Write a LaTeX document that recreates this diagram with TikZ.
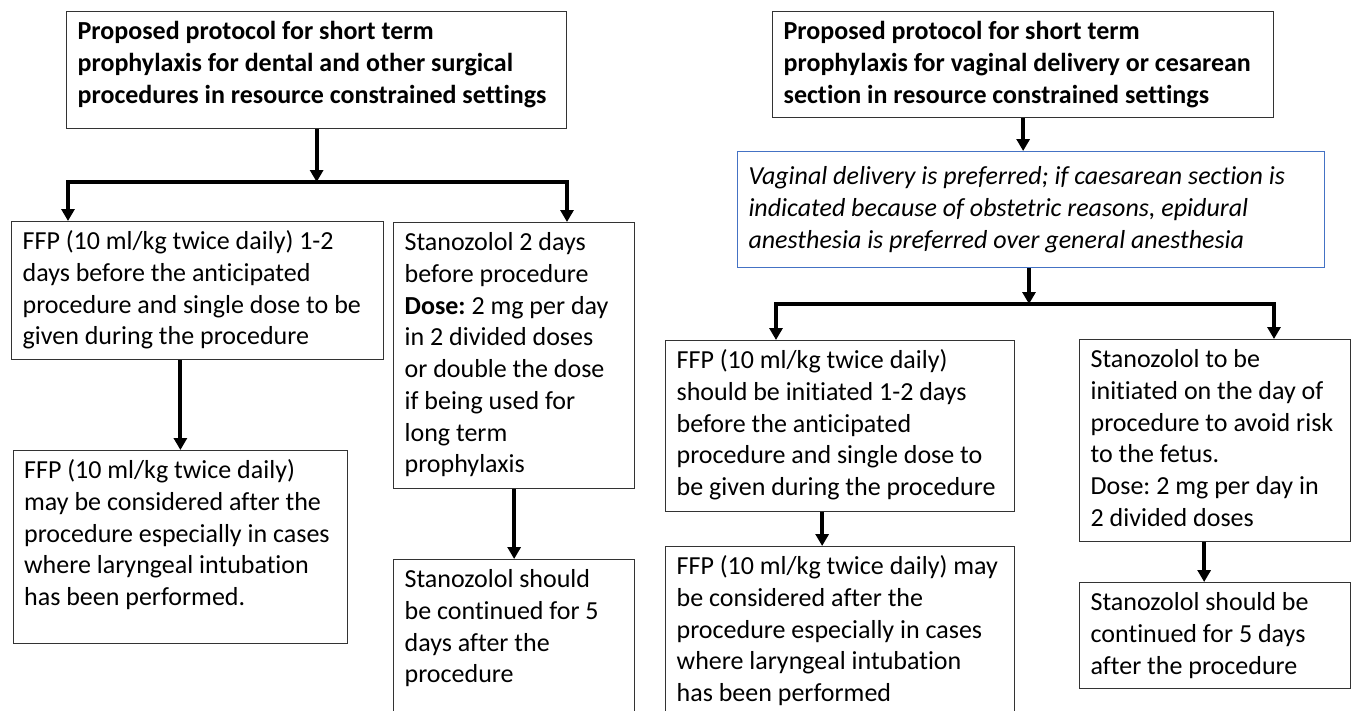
\documentclass[tikz,border=0pt]{standalone}
\usepackage{fontspec}
\setmainfont{Carlito}[Ligatures=NoCommon]
\usetikzlibrary{arrows.meta}
\frenchspacing

\newcommand{\txtbox}[4][0pt]{\parbox[t][\dimexpr#3-12pt\relax][t]{#2}{\raggedright\leftskip=11pt\relax\vspace*{#1}\strut #4}}

\tikzset{
  box/.style={draw=black!80, line width=1.3pt, inner xsep=0pt, inner ysep=6pt, anchor=north west,
    font=\fontsize{26pt}{31.7pt}\selectfont},
  bluebox/.style={box, draw={rgb,255:red,68;green,114;blue,196}, line width=1pt},
  arr/.style={-{Triangle[width=13pt,length=12pt]}, line width=4pt},
  fork/.style={{Triangle[width=13pt,length=12pt]}-{Triangle[width=13pt,length=12pt]}, line width=4pt, miter limit=4}
}

\begin{document}
\begin{tikzpicture}[x=1pt,y=-1pt]
  \useasboundingbox (0,0) rectangle (1351,710);
  \clip (0,0) rectangle (1351,710);

  \node[box] (ttlL) at (66,11) {\txtbox{500pt}{117pt}{\bfseries Proposed protocol for short term\\prophylaxis for dental and other surgical\\procedures in resource constrained settings}};
  \node[box] (ffpa) at (11,221) {\txtbox{372pt}{138pt}{FFP (10 ml/kg twice daily) 1-2\\days before the anticipated\\procedure and single dose to be\\given during the procedure}};
  \node[box] (stana) at (393,222) {\txtbox{241pt}{266pt}{Stanozolol 2 days\\before procedure\\\textbf{Dose:} 2 mg per day\\in 2 divided doses\\or double the dose\\if being used for\\long term\\prophylaxis}};
  \node[box] (ffpb) at (12.5,450) {\txtbox{334.5pt}{193pt}{FFP (10 ml/kg twice daily)\\may be considered after the\\procedure especially in cases\\where laryngeal intubation\\has been performed.}};
  \node[box] (stanb) at (393,559) {\txtbox{241pt}{170pt}{Stanozolol should\\be continued for 5\\days after the\\procedure}};

  \node[box] (ttlR) at (772,11) {\txtbox{501pt}{106pt}{\bfseries Proposed protocol for short term\\prophylaxis for vaginal delivery or cesarean\\section in resource constrained settings}};
  \node[bluebox] (prefer) at (737,151) {\txtbox[5pt]{587pt}{116pt}{\itshape Vaginal delivery is preferred; if caesarean section is\\indicated because of obstetric reasons, epidural\\anesthesia is preferred over general anesthesia}};
  \node[box] (ffpc) at (665,340) {\txtbox{349pt}{171pt}{FFP (10 ml/kg twice daily)\\should be initiated 1-2 days\\before the anticipated\\procedure and single dose to\\be given during the procedure}};
  \node[box] (stanc) at (1079,339) {\txtbox{271pt}{202pt}{Stanozolol to be\\initiated on the day of\\procedure to avoid risk\\to the fetus.\\Dose: 2 mg per day in\\2 divided doses}};
  \node[box] (ffpd) at (665,546) {\txtbox{349pt}{180pt}{FFP (10 ml/kg twice daily) may\\be considered after the\\procedure especially in cases\\where laryngeal intubation\\has been performed}};
  \node[box] (stand) at (1079,582) {\txtbox{271pt}{106pt}{Stanozolol should be\\continued for 5 days\\after the procedure}};

  \coordinate (barL) at (68,182);
  \coordinate (barR) at (567,182);
  \coordinate (barL2) at (776,304);
  \coordinate (barR2) at (1274,304);

  \draw[arr] (ttlL.south) -- (ttlL.south |- barL);
  \draw[fork] (barL |- ffpa.north) -- (barL) -- (barR) -- (barR |- stana.north);
  \draw[arr] (ffpa.south -| ffpb.north) -- (ffpb.north);
  \draw[arr] (stana.south) -- (stanb.north);

  \draw[arr] (ttlR.south) -- (ttlR.south |- prefer.north);
  \draw[arr] ([xshift=-2pt]prefer.south) -- ([xshift=-2pt]prefer.south |- barL2);
  \draw[fork] (barL2 |- ffpc.north) -- (barL2) -- (barR2) -- (barR2 |- stanc.north);
  \draw[arr] ([xshift=-18pt]ffpc.south) -- ([xshift=-18pt]ffpd.north);
  \draw[arr] ([xshift=-11pt]stanc.south) -- ([xshift=-11pt]stand.north);
\end{tikzpicture}
\end{document}
